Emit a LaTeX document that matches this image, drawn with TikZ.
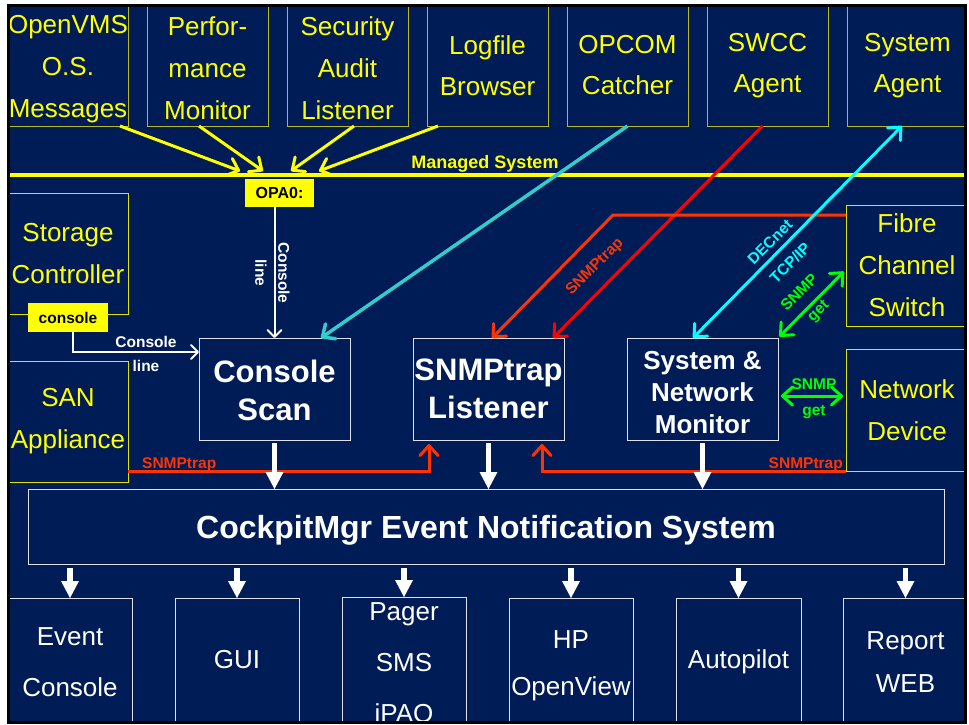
\documentclass[tikz,border=0pt]{standalone}
\usepackage{fontspec}
\setmainfont{Liberation Sans}
\usetikzlibrary{arrows.meta,calc}
\definecolor{navy}{RGB}{0,28,86}
\definecolor{yel}{RGB}{255,255,0}
\definecolor{olivebox}{RGB}{185,185,40}
\definecolor{sidebox}{RGB}{225,225,10}
\definecolor{teal2}{RGB}{51,204,204}
\definecolor{cyan2}{RGB}{0,255,255}
\definecolor{red2}{RGB}{255,0,0}
\definecolor{ored}{RGB}{255,51,0}
\definecolor{grn}{RGB}{0,255,0}
\definecolor{boxw}{RGB}{225,225,235}
\newcommand{\dn}{\rule{0pt}{25pt}}
\begin{document}
\begin{tikzpicture}[x=1pt,y=-1pt,
 topbox/.style={draw=olivebox, line width=1pt, inner sep=0pt, outer sep=0pt, text=yel, align=center, font=\fontsize{26}{42}\selectfont, minimum width=121pt, minimum height=121pt},
 sbox/.style={topbox, draw=sidebox},
 wbox/.style={draw=boxw, line width=1pt, inner sep=0pt, outer sep=0pt, text=white, align=center, minimum width=151pt, minimum height=102pt},
 outbox/.style={draw=boxw, line width=1pt, inner sep=0pt, outer sep=0pt, text=white, align=center, minimum width=124pt, minimum height=128pt},
 tagbox/.style={fill=yel, text=black, font=\fontsize{15.5}{18}\selectfont\bfseries, inner sep=0pt, outer sep=0pt},
 lbl/.style={font=\fontsize{15.5}{23}\selectfont\bfseries, inner sep=0pt, align=center},
 barb/.style={-{Straight Barb[length=10pt,width=18pt,round]}},
 dbarb/.style={{Straight Barb[length=10pt,width=18pt,round]}-{Straight Barb[length=10pt,width=18pt,round]}},
 fat/.style={draw=white, line width=5.5pt, -{Triangle[length=17pt,width=18pt,line width=0pt]}},
]
\useasboundingbox (0,0) rectangle (969,724);
\fill[white] (0,0) rectangle (969,724);
\begin{scope}
\clip (8,5) rectangle (965,722);
\fill[navy] (8,5) rectangle (965,722);

% top row
\node[topbox, minimum width=120pt] (ovms) at (68,65.5) {\dn OpenVMS\\O.S.\\Messages};
\node[topbox] (perf) at (207.5,65.5) {\dn Perfor-\\mance\\Monitor};
\node[topbox] (sec) at (347.5,65.5) {\dn Security\\Audit\\Listener};
\node[topbox, font=\fontsize{26}{41}\selectfont] (logf) at (487.5,65.5) {Logfile\\Browser};
\node[topbox, font=\fontsize{26}{41}\selectfont] (opcom) at (627.5,65.5) {OPCOM\\Catcher};
\node[topbox, font=\fontsize{26}{41}\selectfont] (swcc) at (767.5,65.5) {SWCC\\Agent};
\node[topbox, font=\fontsize{26}{41}\selectfont] (sagent) at (907.5,65.5) {System\\Agent};

% managed system line
\draw[yel, line width=3.5pt] (0,175) -- (980,175);
\node[lbl, text=yel, font=\fontsize{18}{20}\selectfont\bfseries] (ms) at (485,164) {Managed System};
\node[tagbox, minimum width=69pt, minimum height=28pt, font=\fontsize{16}{18}\selectfont\bfseries] (opa) at (279.5,193) {OPA0:};

\coordinate (e1) at (240,171);
\coordinate (e2) at (263,171);
\coordinate (e3) at (291,171);
\coordinate (e4) at (319,171);
\draw[yel, line width=3pt, barb] ([xshift=52pt]ovms.south) -- (e1);
\draw[yel, line width=3pt, barb] ([xshift=-8.5pt]perf.south) -- (e2);
\draw[yel, line width=3pt, barb] ([xshift=6.5pt]sec.south) -- (e3);
\draw[yel, line width=3pt, barb] ([xshift=-49.5pt]logf.south) -- (e4);

% side boxes
\node[sbox, minimum width=120pt] (stor) at (68,253.5) {Storage\\Controller};
\node[sbox, minimum width=120pt] (san) at (68,421.5) {SAN\\Appliance};
\node[sbox, minimum width=122pt] (fibre) at (907,265.5) {Fibre\\Channel\\Switch};
\node[sbox, minimum width=122pt, minimum height=122pt] (netdev) at (907,410) {Network\\Device};
\node[tagbox, minimum width=80pt, minimum height=29pt] (cons) at (68,317.5) {console};

% middle boxes
\node[wbox, font=\fontsize{31}{38}\selectfont\bfseries] (cscan) at (274.5,389) {\rule{0pt}{26pt}Console\\Scan};
\node[wbox, font=\fontsize{31}{38}\selectfont\bfseries] (listener) at (488.5,389) {SNMPtrap\\Listener};
\node[wbox, font=\fontsize{26}{32}\selectfont\bfseries] (monitor) at (702.5,389) {\dn System \&\\Network\\Monitor};

% console lines
\draw[white, line width=2pt, -{Straight Barb[length=7pt,width=14pt,round]}] (opa.south -| cscan.north) -- (cscan.north);
\node[lbl, text=white, rotate=-90] (cl1) at (272.5,273) {Console\\line};
\coordinate (cl) at ([yshift=37pt]cscan.west);
\draw[white, line width=2pt, -{Straight Barb[length=7pt,width=14pt,round]}] ([xshift=5pt]cons.south) |- (cl);
\node[lbl, text=white] (cl2) at (146,342) {Console};
\node[lbl, text=white] (cl3) at (146,366) {line};

% diagonal connectors
\draw[teal2, line width=3.5pt, barb] (opcom.south) -- ([xshift=-29pt]cscan.north east);
\draw[red2, line width=3pt, barb] ([xshift=-5pt]swcc.south) -- ([xshift=-11pt]listener.north east);
\coordinate (bend) at (613,215);
\draw[ored, line width=3pt, barb] ([yshift=50.5pt]fibre.west) -- (bend) -- ([xshift=3.5pt]listener.north);
\node[lbl, text=ored, rotate=45] (t1) at (595,267) {SNMPtrap};

\draw[cyan2, line width=3pt, dbarb] ([xshift=-9.5pt]monitor.north) -- ([xshift=-5.5pt]sagent.south);
\node[lbl, text=cyan2, rotate=45] (t2) at (770,242) {DECnet};
\node[lbl, text=cyan2, rotate=45] (t3) at (790,263) {TCP/IP};

\draw[grn, line width=3pt, dbarb, shorten <=2pt, shorten >=3pt] (monitor.north east) -- ([yshift=-4pt]fibre.west);
\node[lbl, text=grn, rotate=45] (t4) at (799,292) {SNMP};
\node[lbl, text=grn, rotate=45] (t5) at (819,312) {get};

\coordinate (g1) at ([yshift=-7pt]monitor.east);
\draw[grn, line width=3pt, dbarb, shorten <=3pt, shorten >=3pt] (g1) -- (g1 -| netdev.west);
\node[lbl, text=grn] (t6) at (814,384) {SNMP};
\node[lbl, text=grn] (t7) at (814,412) {get};

% SNMPtrap L lines
\draw[ored, line width=3pt, barb, shorten >=4pt] ([yshift=-49.5pt]san.east) -| ([xshift=16pt]listener.south west);
\draw[ored, line width=3pt, barb, shorten >=4pt] (netdev.south west) -| ([xshift=-22pt]listener.south east);
\node[lbl, text=ored, anchor=base west] (t8) at (142,468) {SNMPtrap};
\node[lbl, text=ored, anchor=base east] (t9) at (843,468) {SNMPtrap};

% cockpit
\node[wbox, minimum width=916pt, minimum height=75pt, text depth=0pt, font=\fontsize{32}{36}\selectfont\bfseries] (cock) at (486,526.5) {CockpitMgr Event Notification System};

\foreach \n in {cscan,listener,monitor}
  \draw[fat, shorten <=3pt] (\n.south) -- (\n.south |- cock.north);

% outputs
\node[outbox, font=\fontsize{26}{51}\selectfont] (ec) at (70,662) {Event\\Console};
\node[outbox, font=\fontsize{26}{51}\selectfont] (gui) at (237,662) {GUI\rule[-6pt]{0pt}{6pt}};
\node[outbox, font=\fontsize{26}{51}\selectfont] (pager) at (404,662) {\rule{0pt}{23pt}Pager\\SMS\\iPAQ};
\node[outbox, font=\fontsize{26}{47}\selectfont] (hp) at (571,662) {\rule{0pt}{26pt}HP\\OpenView};
\node[outbox, minimum width=125pt, font=\fontsize{26}{47}\selectfont] (autop) at (738.5,662) {Autopilot};
\node[outbox, minimum width=125pt, font=\fontsize{26}{43}\selectfont] (rep) at (905.5,662) {Report\\WEB};

\foreach \n in {ec,gui,pager,hp,autop,rep}
  \draw[fat, shorten <=4pt] (\n.north |- cock.south) -- (\n.north);
\end{scope}
\draw[black, line width=3pt] (8,5) rectangle (965,722);
\end{tikzpicture}
\end{document}
